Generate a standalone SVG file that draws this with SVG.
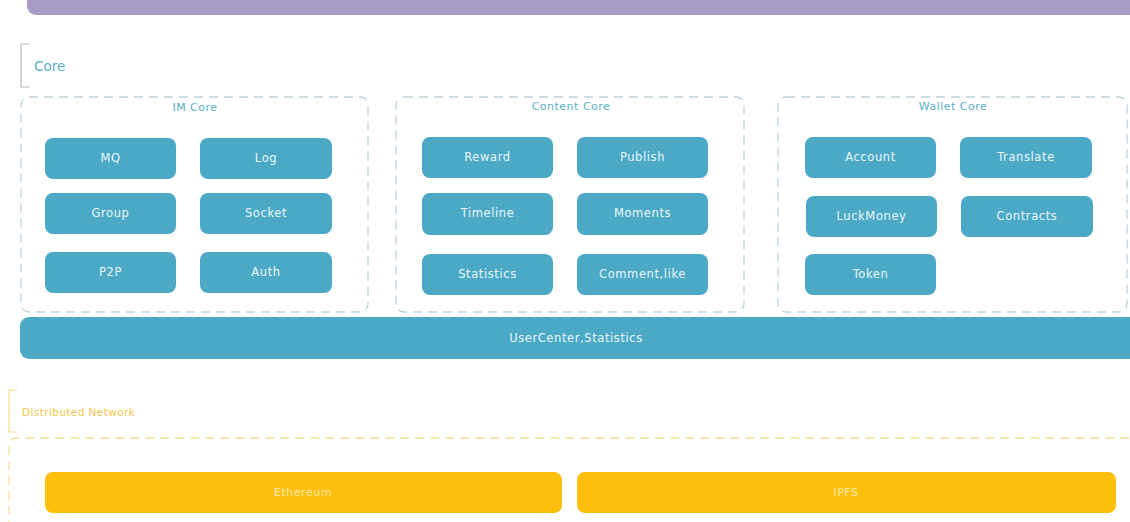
<svg xmlns="http://www.w3.org/2000/svg" width="1130" height="522" viewBox="0 0 1130 522">
<style>
.btn{fill:#4BA9C6}
.bt{font-family:"DejaVu Sans",sans-serif;font-size:11.5px;fill:#EAF6FA;text-anchor:middle;letter-spacing:0.6px}
.frame{fill:none;stroke:#BCD3DC;stroke-width:1.3;stroke-dasharray:9 6}
.ft{font-family:"DejaVu Sans",sans-serif;font-size:11px;fill:#5AAFC6;text-anchor:middle;letter-spacing:0.5px}
.y{fill:#FDBF0B}
.yt{font-family:"DejaVu Sans",sans-serif;font-size:11px;fill:#FCE9B0;text-anchor:middle;letter-spacing:0.6px}
</style>
<rect width="1130" height="522" fill="#FFFFFF"/>
<rect id="topbar" x="27" y="-12" width="1130" height="27" rx="9" fill="#A89BC5"/>
<g id="core-label">
<path d="M30 44 H21 V87 H30" fill="none" stroke="#B8B8B8" stroke-width="1.2"/>
<text x="34" y="71" font-family="DejaVu Sans,sans-serif" font-size="13.5" fill="#5AAFC6">Core</text>
</g>
<g id="im-core">
<rect class="frame" x="21" y="97" width="347" height="215" rx="8"/>
<text class="ft" x="195" y="111">IM Core</text>
<g id="mq"><rect class="btn" x="45" y="138" width="131" height="41" rx="8"/><text class="bt" x="110.5" y="162">MQ</text></g>
<g id="log"><rect class="btn" x="200" y="138" width="132" height="41" rx="8"/><text class="bt" x="266" y="162">Log</text></g>
<g id="group"><rect class="btn" x="45" y="193" width="131" height="41" rx="8"/><text class="bt" x="110.5" y="217">Group</text></g>
<g id="socket"><rect class="btn" x="200" y="193" width="132" height="41" rx="8"/><text class="bt" x="266" y="217">Socket</text></g>
<g id="p2p"><rect class="btn" x="45" y="252" width="131" height="41" rx="8"/><text class="bt" x="110.5" y="276">P2P</text></g>
<g id="auth"><rect class="btn" x="200" y="252" width="132" height="41" rx="8"/><text class="bt" x="266" y="276">Auth</text></g>
</g>
<g id="content-core">
<rect class="frame" x="396" y="97" width="348" height="215" rx="8"/>
<text class="ft" x="571" y="110">Content Core</text>
<g id="reward"><rect class="btn" x="422" y="137" width="131" height="41" rx="8"/><text class="bt" x="487.5" y="161">Reward</text></g>
<g id="publish"><rect class="btn" x="577" y="137" width="131" height="41" rx="8"/><text class="bt" x="642.5" y="161">Publish</text></g>
<g id="timeline"><rect class="btn" x="422" y="193" width="131" height="42" rx="8"/><text class="bt" x="487.5" y="217">Timeline</text></g>
<g id="moments"><rect class="btn" x="577" y="193" width="131" height="42" rx="8"/><text class="bt" x="642.5" y="217">Moments</text></g>
<g id="statistics"><rect class="btn" x="422" y="254" width="131" height="41" rx="8"/><text class="bt" x="487.5" y="278">Statistics</text></g>
<g id="comment"><rect class="btn" x="577" y="254" width="131" height="41" rx="8"/><text class="bt" x="642.5" y="278">Comment,like</text></g>
</g>
<g id="wallet-core">
<rect class="frame" x="778" y="97" width="349" height="215" rx="8"/>
<text class="ft" x="953" y="110">Wallet Core</text>
<g id="account"><rect class="btn" x="805" y="137" width="131" height="41" rx="8"/><text class="bt" x="870.5" y="161">Account</text></g>
<g id="translate"><rect class="btn" x="960" y="137" width="132" height="41" rx="8"/><text class="bt" x="1026" y="161">Translate</text></g>
<g id="luckmoney"><rect class="btn" x="806" y="196" width="131" height="41" rx="8"/><text class="bt" x="871.5" y="220">LuckMoney</text></g>
<g id="contracts"><rect class="btn" x="961" y="196" width="132" height="41" rx="8"/><text class="bt" x="1027" y="220">Contracts</text></g>
<g id="token"><rect class="btn" x="805" y="254" width="131" height="41" rx="8"/><text class="bt" x="870.5" y="278">Token</text></g>
</g>
<g id="usercenter">
<rect class="btn" x="20" y="317" width="1125" height="42" rx="9"/>
<text class="bt" x="576" y="342">UserCenter,Statistics</text>
</g>
<g id="dist-label">
<path d="M17 390 H9 V432 H17" fill="none" stroke="#F8DE90" stroke-width="1.2"/>
<text x="22" y="416" font-family="DejaVu Sans,sans-serif" font-size="10.5" fill="#F3C64A" letter-spacing="0.4">Distributed Network</text>
</g>
<g id="dist-network">
<path d="M9 530 V446 Q9 438 17 438 H1130" fill="none" stroke="#F6DC94" stroke-width="1.3" stroke-dasharray="9 6"/>
<g id="ethereum"><rect class="y" x="45" y="472" width="517" height="41" rx="8"/><text class="yt" x="303" y="496">Ethereum</text></g>
<g id="ipfs"><rect class="y" x="577" y="472" width="539" height="41" rx="8"/><text class="yt" x="846" y="496">IPFS</text></g>
</g>
<g id="connectors"/>
</svg>
